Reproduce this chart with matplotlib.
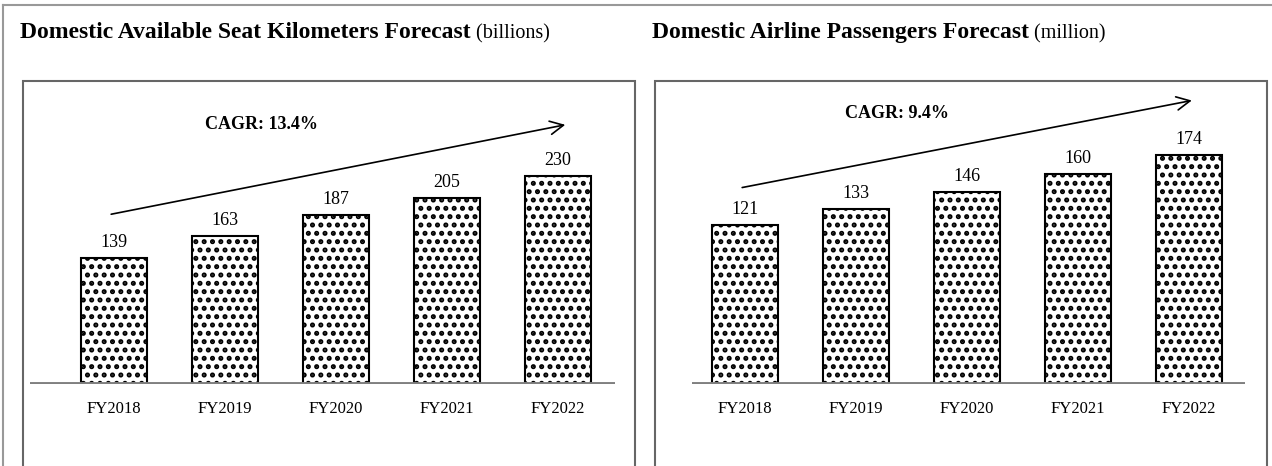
import matplotlib
matplotlib.use('Agg')
import numpy as np
import matplotlib.pyplot as plt
from matplotlib.patches import Rectangle
from matplotlib.lines import Line2D

years = ['FY2018', 'FY2019', 'FY2020', 'FY2021', 'FY2022']
ask = [139, 163, 187, 205, 230]
pax = [121, 133, 146, 160, 174]

plt.rcParams['font.family'] = ['Liberation Serif', 'DejaVu Serif']
plt.rcParams['hatch.linewidth'] = 2.4

W, H = 1272, 466
fig = plt.figure(figsize=(W / 100, H / 100), dpi=100)

# outer frame
fig.add_artist(Line2D([3 / W, 3 / W], [0, 1 - 5 / H], color='#999999', lw=1.5))
fig.add_artist(Line2D([3 / W, 1], [1 - 5 / H, 1 - 5 / H], color='#999999', lw=1.5))

# inner boxes
for x0, x1 in [(23, 635), (655, 1267)]:
    fig.add_artist(Rectangle((x0 / W, -0.05), (x1 - x0) / W, (1 - 81 / H) + 0.05,
                             fill=False, ec='#666666', lw=1.5))


def title(x, y, bold, normal):
    t = fig.text(x / W, 1 - y / H, bold, fontsize=17, fontweight='bold', va='baseline')
    fig.canvas.draw()
    bb = t.get_window_extent()
    fig.text(bb.x1 / W, 1 - y / H, ' ' + normal, fontsize=14.5, va='baseline')


title(20, 38, 'Domestic Available Seat Kilometers Forecast', '(billions)')
title(652, 38, 'Domestic Airline Passengers Forecast', '(million)')


def panel(x0, x1, c0, vals, ppu, label, arrow, txt):
    base = 384
    top = 90
    ax = fig.add_axes([x0 / W, 1 - base / H, (x1 - x0) / W, (base - top) / H])
    sp = 111.0
    ax.set_xlim((x0 - c0) / sp, (x1 - c0) / sp)
    ax.set_ylim(0, (base - top) / ppu)
    xs = np.arange(len(vals))
    ax.bar(xs, vals, width=0.6, color='white', edgecolor='black', hatch='..', lw=1.5, zorder=2)
    for x, v in zip(xs, vals):
        ax.text(x, v + 7 / ppu, str(v), ha='center', va='bottom', fontsize=13)
    ax.axhline(0, color='#808080', lw=2.8, zorder=3)
    for s in ax.spines.values():
        s.set_visible(False)
    ax.set_yticks([])
    ax.set_xticks(xs)
    ax.set_xticklabels(years, fontsize=12)
    ax.tick_params(axis='x', length=0, pad=12)
    ax.patch.set_alpha(0)
    (ax0, ay0), (ax1, ay1) = arrow
    ax.annotate('', xy=(ax1, ay1), xytext=(ax0, ay0),
                arrowprops=dict(arrowstyle='->', color='black', lw=1.2, mutation_scale=24))
    ax.text(txt[0], txt[1], label, ha='center', va='center', fontsize=13, fontweight='bold')
    return ax


panel(30, 615, 114, ask, 0.905, 'CAGR: 13.4%',
      ((-0.05, 187), (4.09, 287)), (1.33, 287))
panel(692, 1245, 745, pax, 1.315, 'CAGR: 9.4%',
      ((-0.05, 149), (4.05, 216)), (1.37, 206))

fig.savefig('out.png', dpi=100)
